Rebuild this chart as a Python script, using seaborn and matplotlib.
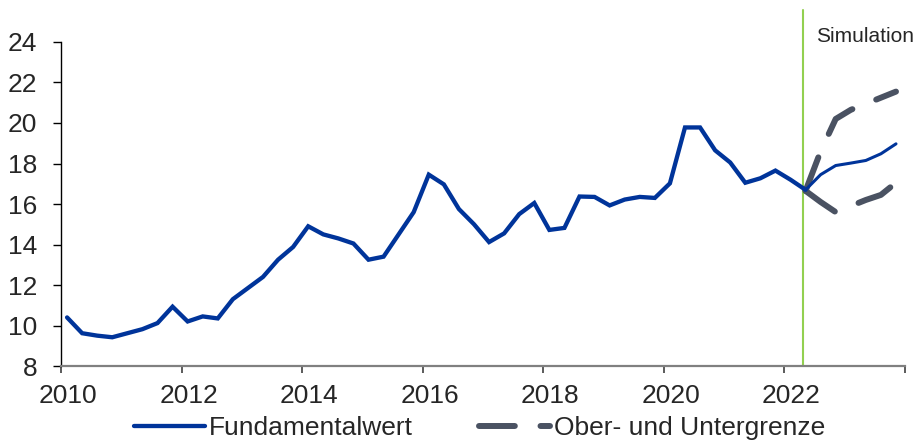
import numpy as np
import pandas as pd
import seaborn as sns
import matplotlib.pyplot as plt
import matplotlib.transforms as mtransforms

# quarterly fundamental value (history) and simulation band
quarters_hist = pd.period_range('2010Q1', '2022Q2', freq='Q')
fundamental = [10.4, 9.62, 9.5, 9.42, 9.62, 9.82, 10.12, 10.93, 10.2, 10.45,
               10.35, 11.3, 11.85, 12.4, 13.25, 13.88, 14.9, 14.5, 14.3, 14.05,
               13.25, 13.4, 14.5, 15.6, 17.45, 16.97, 15.75, 15.0, 14.12, 14.55,
               15.5, 16.05, 14.72, 14.82, 16.37, 16.35, 15.93, 16.22, 16.35, 16.3,
               17.02, 19.78, 19.78, 18.65, 18.05, 17.05, 17.27, 17.65, 17.2, 16.7]

quarters_sim = pd.period_range('2022Q2', '2023Q4', freq='Q')
sim_mid = [16.7, 17.45, 17.9, 18.02, 18.15, 18.48, 18.97]
sim_upper = [16.65, 18.6, 20.2, 20.65, 20.95, 21.25, 21.55]
sim_lower = [16.65, 16.1, 15.6, 15.9, 16.2, 16.45, 17.05]

x_ticks = [2010, 2012, 2014, 2016, 2018, 2020, 2022, 2024]
x_labels = ['2010', '2012', '2014', '2016', '2018', '2020', '2022', '']
y_ticks = [8, 10, 12, 14, 16, 18, 20, 22, 24]


def to_year(p):
    return p.year + (p.quarter - 1) / 4 + 0.1


df_hist = pd.DataFrame({'x': [to_year(p) for p in quarters_hist], 'y': fundamental})
df_sim = pd.DataFrame({'x': [to_year(p) for p in quarters_sim],
                       'mid': sim_mid, 'upper': sim_upper, 'lower': sim_lower})

sns.set_style('ticks')
plt.rcParams['font.family'] = ['Liberation Sans', 'DejaVu Sans']

blue = '#00349A'
gray = '#4A5262'
green = '#92D050'

fig, ax = plt.subplots(figsize=(9.22, 4.41), dpi=100)
fig.subplots_adjust(left=0.0662, right=0.9816, bottom=0.17, top=0.9048)

ax.axvline(2022.3, ymin=0, ymax=(25.6 - 8) / 16, clip_on=False,
           color=green, lw=1.5, zorder=1)

sns.lineplot(data=df_hist, x='x', y='y', ax=ax, color=blue, lw=3.1,
             solid_joinstyle='miter', zorder=3)
sns.lineplot(data=df_sim, x='x', y='mid', ax=ax, color=blue, lw=2.2, zorder=3)
for col in ['upper', 'lower']:
    sns.lineplot(data=df_sim, x='x', y=col, ax=ax, color=gray, lw=4.3,
                 linestyle=(0, (6, 4.3)), dash_capstyle='round', zorder=2)

lines = ax.get_lines()
h_blue = lines[1]
h_gray = lines[3]
if ax.get_legend() is not None:
    ax.get_legend().remove()

ax.set_xlim(2010, 2024)
ax.set_ylim(8, 24)
ax.set_xticks(x_ticks)
ax.set_xticklabels(x_labels)
ax.set_yticks(y_ticks)
ax.set_xlabel('')
ax.set_ylabel('')

sns.despine(ax=ax)
ax.spines['left'].set_color('black')
ax.spines['left'].set_linewidth(1.0)
ax.spines['bottom'].set_color('#808080')
ax.spines['bottom'].set_linewidth(1.6)
ax.tick_params(axis='y', length=6, width=1, pad=11, labelsize=19,
               color='black', left=True)
ax.tick_params(axis='x', length=5, width=1.2, pad=8, labelsize=19,
               color='#404040', bottom=True)

offset = mtransforms.ScaledTranslation(7 / 100, 0, fig.dpi_scale_trans)
for lab in ax.get_xticklabels():
    lab.set_transform(lab.get_transform() + offset)

ax.text(2022.52, 24.25, 'Simulation', fontsize=15, va='center', ha='left')

fig.legend(handles=[h_blue, h_gray],
           labels=['Fundamentalwert', 'Ober- und Untergrenze'],
           loc='center', bbox_to_anchor=(0.52, 0.03), ncol=2, frameon=False,
           fontsize=19, handlelength=2.7, handletextpad=0.15,
           columnspacing=2.5, borderpad=0)

fig.savefig('out.png', dpi=100)
